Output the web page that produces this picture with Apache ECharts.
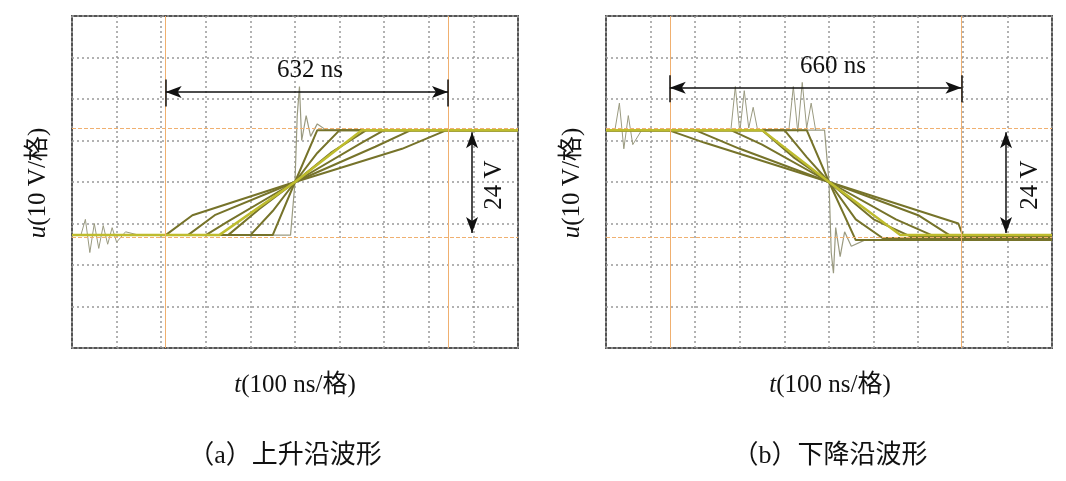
<!DOCTYPE html>
<html>
<head>
<meta charset="utf-8">
<script src="https://cdn.jsdelivr.net/npm/echarts@6/dist/echarts.min.js"></script>
<style>html,body{margin:0;background:#fff}#main{width:1066px;height:481px}</style>
</head>
<body>
<div id="main"></div>
<script>
// levels in divisions (10 V / div), time in divisions (100 ns / div)
var lowLevel = 2.72, highLevel = 5.25;

// rising edge traces (a)
var rise1 = [[0,2.72],[4.9,2.72],[5.0,4.0],[5.05,5.6],[5.1,6.3],[5.15,5.0],[5.25,5.6],[5.35,5.1],[5.5,5.4],[5.7,5.25],[10,5.25]];
var rise2 = [[0,2.72],[4.5,2.72],[5.0,4.0],[5.5,5.25],[10,5.25]];
var rise3 = [[0,2.72],[4.0,2.72],[4.5,3.3],[5.0,4.0],[5.5,4.7],[6.0,5.25],[10,5.25]];
var rise4 = [[0,2.72],[3.5,2.72],[4.2,3.35],[5.0,4.0],[5.8,4.7],[6.6,5.25],[10,5.25]];
var rise5 = [[0,2.72],[3.0,2.72],[3.5,3.05],[5.0,4.0],[6.5,4.95],[7.0,5.25],[10,5.25]];
var rise6 = [[0,2.72],[2.6,2.72],[3.2,3.2],[5.0,4.0],[6.8,4.85],[7.6,5.25],[10,5.25]];
var rise7 = [[0,2.72],[2.1,2.72],[2.7,3.2],[5.0,4.0],[7.4,4.8],[8.4,5.25],[10,5.25]];
var riseHi = [[0,2.72],[3.3,2.72],[5.0,4.0],[6.2,5.0],[6.5,5.25],[10,5.25]];
var riseNoise = [[0.2,2.72],[0.3,3.1],[0.4,2.3],[0.5,3.0],[0.6,2.4],[0.7,2.95],[0.8,2.5],[0.9,2.9],[1.0,2.55],[1.2,2.8],[1.5,2.72]];

// falling edge traces (b)
var fall1 = [[0,5.25],[4.9,5.25],[5.0,4.0],[5.05,2.3],[5.1,1.8],[5.15,2.9],[5.25,2.2],[5.35,2.8],[5.5,2.45],[5.8,2.6],[10,2.6]];
var fall2 = [[0,5.25],[4.5,5.25],[5.0,4.0],[5.6,2.6],[10,2.6]];
var fall3 = [[0,5.25],[4.0,5.25],[4.5,4.6],[5.0,4.0],[5.6,3.1],[6.2,2.65],[10,2.65]];
var fall4 = [[0,5.25],[3.5,5.25],[4.2,4.6],[5.0,4.0],[6.0,3.1],[6.8,2.7],[10,2.7]];
var fall5 = [[0,5.25],[2.8,5.25],[3.5,4.9],[5.0,4.0],[6.5,3.1],[7.3,2.72],[10,2.72]];
var fall6 = [[0,5.25],[2.0,5.25],[3.0,4.8],[5.0,4.0],[7.0,3.2],[7.7,2.72],[10,2.72]];
var fall7 = [[0,5.25],[1.4,5.25],[2.2,4.95],[5.0,4.0],[7.9,3.0],[8.0,2.72],[10,2.72]];
var fallHi = [[0,5.25],[3.5,5.25],[5.0,4.0],[6.6,2.72],[10,2.72]];
var fallNoise = [[0.2,5.25],[0.3,5.9],[0.4,4.8],[0.5,5.6],[0.6,4.9],[0.8,5.25],[2.8,5.25],[2.9,6.3],[3.0,5.2],[3.1,6.2],[3.2,5.3],[3.3,5.8],[3.4,5.25],[4.1,5.25],[4.2,6.3],[4.3,5.2],[4.4,6.4],[4.5,5.3],[4.6,5.9],[4.7,5.25]];

// cursors and dimension marks
var riseCursors = [2.1, 8.43], fallCursors = [1.43, 7.97];
var riseLabel = '632 ns', fallLabel = '660 ns';
var voltLabel = '24 V';

var olive = '#76732a', yellow = '#bebc2e', grey = '#9a9a80', orange = '#f0b070';

function trace(data, idx, color, w) {
  return { type: 'line', xAxisIndex: idx, yAxisIndex: idx, data: data, symbol: 'none',
    lineStyle: { color: color, width: w }, z: 3, animation: false };
}

function overlay(idx, cursors, arrowY) {
  return { type: 'line', xAxisIndex: idx, yAxisIndex: idx, data: [], animation: false,
    markLine: { silent: true, symbol: 'none', label: { show: false }, animation: false,
      lineStyle: { color: orange, type: 'solid', width: 1 },
      data: [
        { xAxis: cursors[0] }, { xAxis: cursors[1] },
        { yAxis: highLevel + 0.05, lineStyle: { color: orange, type: 'dashed', width: 1 } },
        { yAxis: lowLevel - 0.05, lineStyle: { color: orange, type: 'dashed', width: 1 } },
        [{ coord: [cursors[0], arrowY], symbol: 'arrow', symbolSize: [9, 16], lineStyle: { color: '#111', width: 1.5 } },
         { coord: [cursors[1], arrowY], symbol: 'arrow', symbolSize: [9, 16] }],
        [{ coord: [cursors[0], arrowY + 0.3], lineStyle: { color: '#111', width: 1.5 } }, { coord: [cursors[0], arrowY - 0.35] }],
        [{ coord: [cursors[1], arrowY + 0.3], lineStyle: { color: '#111', width: 1.5 } }, { coord: [cursors[1], arrowY - 0.35] }],
        [{ coord: [8.97, highLevel - 0.05], symbol: 'arrow', symbolSize: [9, 16], lineStyle: { color: '#111', width: 1.5 } },
         { coord: [8.97, lowLevel + 0.05], symbol: 'arrow', symbolSize: [9, 16] }]
      ] }
  };
}

var grids = [
  { left: 72, top: 16, width: 446, height: 332, show: true, borderColor: '#555', borderWidth: 2 },
  { left: 606, top: 16, width: 446, height: 332, show: true, borderColor: '#555', borderWidth: 2 }
];
var xAxes = [0, 1].map(function (i) {
  return { type: 'value', gridIndex: i, min: 0, max: 10, interval: 1,
    axisLine: { show: false }, axisTick: { show: false }, axisLabel: { show: false },
    splitLine: { lineStyle: { color: '#999', type: [2, 3], width: 1.5 } } };
});
var yAxes = [0, 1].map(function (i) {
  return { type: 'value', gridIndex: i, min: 0, max: 8, interval: 1,
    axisLine: { show: false }, axisTick: { show: false }, axisLabel: { show: false },
    splitLine: { lineStyle: { color: '#999', type: [2, 3], width: 1.5 } } };
});

var series = [
  overlay(0, riseCursors, 6.17),
  overlay(1, fallCursors, 6.27),
  trace(riseNoise, 0, grey, 1),
  trace(rise1, 0, grey, 1.2), trace(rise2, 0, olive, 2), trace(rise3, 0, olive, 2),
  trace(rise4, 0, olive, 2), trace(rise5, 0, olive, 2), trace(rise6, 0, olive, 2),
  trace(rise7, 0, olive, 2), trace(riseHi, 0, yellow, 2.5),
  trace(fallNoise, 1, grey, 1),
  trace(fall1, 1, grey, 1.2), trace(fall2, 1, olive, 2), trace(fall3, 1, olive, 2),
  trace(fall4, 1, olive, 2), trace(fall5, 1, olive, 2), trace(fall6, 1, olive, 2),
  trace(fall7, 1, olive, 2), trace(fallHi, 1, yellow, 2.5)
];

var serif = 'Liberation Serif, Noto Sans CJK SC';
var italic = { i: { fontStyle: 'italic', fontSize: 25, fontFamily: 'Liberation Serif', fill: '#111' } };
function txt(x, y, s, rot, size) {
  return { type: 'text', x: x, y: y, rotation: rot || 0, z: 10,
    style: { text: s, fill: '#111', font: (size || 25) + 'px ' + serif, align: 'center', verticalAlign: 'middle', rich: italic } };
}

var myChart = echarts.init(document.getElementById('main'));
myChart.setOption({
  animation: false,
  grid: grids, xAxis: xAxes, yAxis: yAxes, series: series,
  graphic: [
    txt(38, 183, '{i|u}(10 V/格)', Math.PI / 2),
    txt(572, 183, '{i|u}(10 V/格)', Math.PI / 2),
    txt(295, 385, '{i|t}(100 ns/格)'),
    txt(830, 385, '{i|t}(100 ns/格)'),
    txt(310, 70, riseLabel),
    txt(833, 66, fallLabel),
    txt(494, 185, voltLabel, Math.PI / 2),
    txt(1030, 185, voltLabel, Math.PI / 2),
    txt(285, 456, '（a）上升沿波形', 0, 26),
    txt(830, 456, '（b）下降沿波形', 0, 26)
  ]
});
</script>
</body>
</html>
